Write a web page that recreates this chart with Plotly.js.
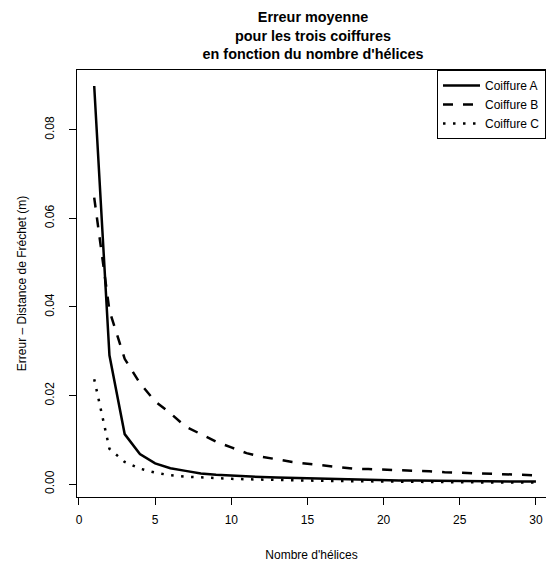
<!DOCTYPE html>
<html>
<head>
<meta charset="utf-8">
<script src="https://cdn.plot.ly/plotly-3.0.1.min.js"></script>
<style>html,body{margin:0;padding:0;background:#fff;}#chart{width:546px;height:563px;}</style>
</head>
<body>
<div id="chart"></div>
<script>
const helices = [1,2,3,4,5,6,7,8,9,10,11,12,13,14,15,16,17,18,19,20,21,22,23,24,25,26,27,28,29,30];
const coiffureA = [0.0899,0.0291,0.0113,0.0068,0.0047,0.0036,0.0030,0.0024,0.0021,0.0019,0.0017,0.0016,0.0015,0.0014,0.0013,0.0012,0.0011,0.0010,0.00095,0.0009,0.00085,0.0008,0.00075,0.0007,0.0007,0.00065,0.00065,0.0006,0.0006,0.0006];
const coiffureB = [0.0647,0.0392,0.0283,0.0228,0.0187,0.0160,0.0130,0.0113,0.0096,0.0083,0.0070,0.0062,0.0056,0.0050,0.0046,0.0042,0.0038,0.0035,0.0034,0.0033,0.0031,0.0030,0.0029,0.0027,0.0026,0.0025,0.0023,0.0022,0.0021,0.0020];
const coiffureC = [0.0237,0.0080,0.0050,0.0035,0.0026,0.0020,0.0017,0.0015,0.0013,0.0012,0.0011,0.0010,0.0009,0.00085,0.0008,0.00075,0.0007,0.00065,0.0006,0.0006,0.00055,0.0005,0.0005,0.00045,0.00045,0.0004,0.0004,0.0004,0.00035,0.00035];
const seriesNames = ["Coiffure A","Coiffure B","Coiffure C"];
const xTicks = [0,5,10,15,20,25,30];
const yTicks = [0,0.02,0.04,0.06,0.08];

const font = "Liberation Sans, Arial, Helvetica, sans-serif";
const traces = [
  {x: helices, y: coiffureA, name: seriesNames[0], mode: "lines", line: {color: "#000", width: 2.5}},
  {x: helices, y: coiffureB, name: seriesNames[1], mode: "lines", line: {color: "#000", width: 2.5, dash: "10px,10px"}},
  {x: helices, y: coiffureC, name: seriesNames[2], mode: "lines", line: {color: "#000", width: 2.5, dash: "2.5px,7.5px"}}
];
const layout = {
  width: 546, height: 563,
  margin: {l: 77, r: 0, t: 70, b: 66},
  paper_bgcolor: "#fff", plot_bgcolor: "#fff",
  font: {family: font, size: 12, color: "#000"},
  title: {
    text: "<b>Erreur moyenne<br>pour les trois coiffures<br>en fonction du nombre d'hélices</b>",
    font: {family: font, size: 14.4, color: "#000"},
    xref: "container", x: 313/546, xanchor: "center",
    yref: "container", y: 1 - 22/563, yanchor: "middle"
  },
  showlegend: true,
  legend: {
    x: (437-77)/469, xanchor: "left", y: 1, yanchor: "top",
    bgcolor: "#fff", bordercolor: "#000", borderwidth: 1,
    font: {family: font, size: 12, color: "#000"},
    itemwidth: 37,
    traceorder: "normal"
  },
  xaxis: {
    range: [-0.13, 30.66],
    tickvals: xTicks, ticktext: xTicks.map(String),
    ticks: "outside", ticklen: 7, tickwidth: 1, tickcolor: "#000",
    ticklabelstandoff: 5,
    showline: true, linecolor: "#000", linewidth: 1, mirror: true,
    showgrid: false, zeroline: false,
    tickfont: {family: font, size: 12, color: "#000"},
    title: {text: "Nombre d'hélices", font: {family: font, size: 12, color: "#000"}, standoff: 24}
  },
  yaxis: {
    range: [-0.0029, 0.0935],
    tickvals: yTicks, ticktext: yTicks.map(v => v.toFixed(2)),
    tickangle: -90,
    ticks: "outside", ticklen: 7, tickwidth: 1, tickcolor: "#000",
    ticklabelstandoff: 10,
    showline: true, linecolor: "#000", linewidth: 1, mirror: false,
    showgrid: false, zeroline: false,
    tickfont: {family: font, size: 12, color: "#000"},
    title: {text: "Erreur – Distance de Fréchet (m)", font: {family: font, size: 12, color: "#000"}, standoff: 14}
  }
};
Plotly.newPlot("chart", traces, layout, {displayModeBar: false, staticPlot: true});
</script>
</body>
</html>
